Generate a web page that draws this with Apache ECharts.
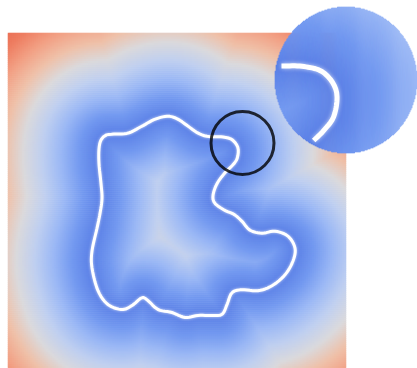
<!DOCTYPE html>
<html>
<head>
<meta charset="utf-8">
<script src="https://cdn.jsdelivr.net/npm/echarts@6/dist/echarts.min.js"></script>
<style>
  html, body { margin: 0; padding: 0; background: #ffffff; }
  #chart { width: 417px; height: 368px; }
</style>
</head>
<body>
<div id="chart"></div>
<script>
// Closed outline of the region, in field units (x to the right, y upward)
const outlineX = [45.5, 46.5, 49, 53, 60, 67, 73.5, 80, 85, 90, 95, 100, 107, 112, 115, 114.5, 112, 108.5,
  104.5, 102.5, 103.5, 108.5, 113, 117, 121, 127, 133.5, 140, 143.5, 142.5, 138.5, 132, 125, 117, 112,
  109.5, 107, 102, 95, 88.5, 82, 75, 70, 67, 62, 57, 50, 45, 42, 42, 44.5, 46, 47, 46.5, 45.5];
const outlineY = [110.5, 115, 117.5, 118, 118.5, 122, 125.5, 127, 125.5, 122, 118.5, 116.8, 116.6, 115.2, 111,
  105.5, 102, 98.5, 93, 87, 83, 79.5, 77.5, 74, 69.5, 68, 69, 66.5, 60.5, 54, 47, 41.5, 39, 39.5, 38,
  32, 27, 26.5, 26.5, 25.5, 28, 29.5, 34, 35.5, 31.5, 29.5, 32, 39, 50.5, 59, 70.5, 78, 85.5, 93, 103];

// Extent of the square field (units)
const fieldSize = 169;

// Spot shown enlarged in the lens
const focusCenter = [117.25, 113.5];
const focusRadius = 16.5;   // half-width of the area inside the lens
const ringRadius = 15.75;   // marker ring drawn on the field

// Distance colour ramp: 0 .. rampMax units, evenly spaced colours
const rampMax = 75;
const rampColors = ['#5b80e6', '#7399f0', '#9bb8f5', '#bfcff0', '#dad9dc',
  '#efc0a8', '#f2a084', '#ee7d61', '#e8684e'];

// Layout
const mainBox = { left: 8, top: 33, width: 338, height: 338 };
const lensBox = { left: 275, top: 7, width: 146, height: 146 };
const lensCells = 146;

// Smooth closed curve through the outline (Catmull-Rom)
function closedSpline(xs, ys, steps) {
  const n = xs.length, pts = [];
  for (let i = 0; i < n; i++) {
    const i0 = (i - 1 + n) % n, i2 = (i + 1) % n, i3 = (i + 2) % n;
    for (let s = 0; s < steps; s++) {
      const t = s / steps, t2 = t * t, t3 = t2 * t;
      const f = (a, b, c, d) => 0.5 * (2 * b + (-a + c) * t + (2 * a - 5 * b + 4 * c - d) * t2 + (-a + 3 * b - 3 * c + d) * t3);
      pts.push([f(xs[i0], xs[i], xs[i2], xs[i3]), f(ys[i0], ys[i], ys[i2], ys[i3])]);
    }
  }
  pts.push(pts[0].slice());
  return pts;
}
const curve = closedSpline(outlineX, outlineY, 12);

// Distance from a point to the curve
function distanceToCurve(px, py) {
  let best = Infinity;
  for (let k = 0; k < curve.length - 1; k++) {
    const ax = curve[k][0], ay = curve[k][1];
    const bx = curve[k + 1][0], by = curve[k + 1][1];
    const dx = bx - ax, dy = by - ay;
    const len2 = dx * dx + dy * dy;
    let t = len2 > 0 ? ((px - ax) * dx + (py - ay) * dy) / len2 : 0;
    t = Math.max(0, Math.min(1, t));
    const ex = ax + t * dx - px, ey = ay + t * dy - py;
    const d2 = ex * ex + ey * ey;
    if (d2 < best) best = d2;
  }
  return Math.sqrt(best);
}

// Field cells
const mainCats = [];
for (let i = 0; i < fieldSize; i++) mainCats.push(String(i));
const mainCells = [];
for (let j = 0; j < fieldSize; j++) {
  for (let i = 0; i < fieldSize; i++) {
    mainCells.push([i, j, distanceToCurve(i + 0.5, j + 0.5)]);
  }
}

// Lens cells (only those inside the round lens)
const cellSize = 2 * focusRadius / lensCells;
const lensCats = [];
for (let i = 0; i < lensCells; i++) lensCats.push(String(i));
const lensData = [];
for (let j = 0; j < lensCells; j++) {
  for (let i = 0; i < lensCells; i++) {
    const x = focusCenter[0] - focusRadius + (i + 0.5) * cellSize;
    const y = focusCenter[1] - focusRadius + (j + 0.5) * cellSize;
    const dx = x - focusCenter[0], dy = y - focusCenter[1];
    if (dx * dx + dy * dy <= focusRadius * focusRadius) {
      lensData.push([i, j, distanceToCurve(x, y)]);
    }
  }
}

// Part of the curve that falls inside the lens
const lensCurve = curve.map(p => {
  const dx = p[0] - focusCenter[0], dy = p[1] - focusCenter[1];
  return Math.sqrt(dx * dx + dy * dy) <= focusRadius - 0.6 ? p : [null, null];
});

const pxPerUnit = mainBox.width / fieldSize;

const chart = echarts.init(document.getElementById('chart'), null, { renderer: 'canvas' });
chart.setOption({
  animation: false,
  backgroundColor: '#ffffff',
  grid: [
    Object.assign({}, mainBox),
    Object.assign({}, mainBox),
    Object.assign({}, lensBox),
    Object.assign({}, lensBox)
  ],
  xAxis: [
    { gridIndex: 0, type: 'category', data: mainCats, show: false },
    { gridIndex: 1, type: 'value', min: 0, max: fieldSize, show: false },
    { gridIndex: 2, type: 'category', data: lensCats, show: false },
    { gridIndex: 3, type: 'value', min: focusCenter[0] - focusRadius, max: focusCenter[0] + focusRadius, show: false }
  ],
  yAxis: [
    { gridIndex: 0, type: 'category', data: mainCats, show: false },
    { gridIndex: 1, type: 'value', min: 0, max: fieldSize, show: false },
    { gridIndex: 2, type: 'category', data: lensCats, show: false },
    { gridIndex: 3, type: 'value', min: focusCenter[1] - focusRadius, max: focusCenter[1] + focusRadius, show: false }
  ],
  visualMap: [
    { type: 'continuous', seriesIndex: 0, min: 0, max: rampMax, show: false, inRange: { color: rampColors } },
    { type: 'continuous', seriesIndex: 3, min: 0, max: rampMax, show: false, inRange: { color: rampColors } }
  ],
  series: [
    {
      type: 'heatmap', xAxisIndex: 0, yAxisIndex: 0, data: mainCells,
      progressive: 0, silent: true, z: 1, emphasis: { disabled: true }
    },
    {
      type: 'line', xAxisIndex: 1, yAxisIndex: 1, data: curve,
      showSymbol: false, symbol: 'none', silent: true, z: 2,
      lineStyle: { color: '#ffffff', width: 3, shadowColor: 'rgba(255,255,255,0.7)', shadowBlur: 3 }
    },
    {
      type: 'scatter', xAxisIndex: 1, yAxisIndex: 1, data: [focusCenter],
      symbol: 'circle', symbolSize: 2 * ringRadius * pxPerUnit, silent: true, z: 3,
      itemStyle: { color: 'rgba(0,0,0,0)', borderColor: '#000000', borderWidth: 3 }
    },
    {
      type: 'heatmap', xAxisIndex: 2, yAxisIndex: 2, data: lensData,
      progressive: 0, silent: true, z: 4, emphasis: { disabled: true }
    },
    {
      type: 'line', xAxisIndex: 3, yAxisIndex: 3, data: lensCurve, connectNulls: false,
      showSymbol: false, symbol: 'none', silent: true, z: 5,
      lineStyle: { color: '#ffffff', width: 5, shadowColor: 'rgba(255,255,255,0.7)', shadowBlur: 4 }
    }
  ]
});
</script>
</body>
</html>
